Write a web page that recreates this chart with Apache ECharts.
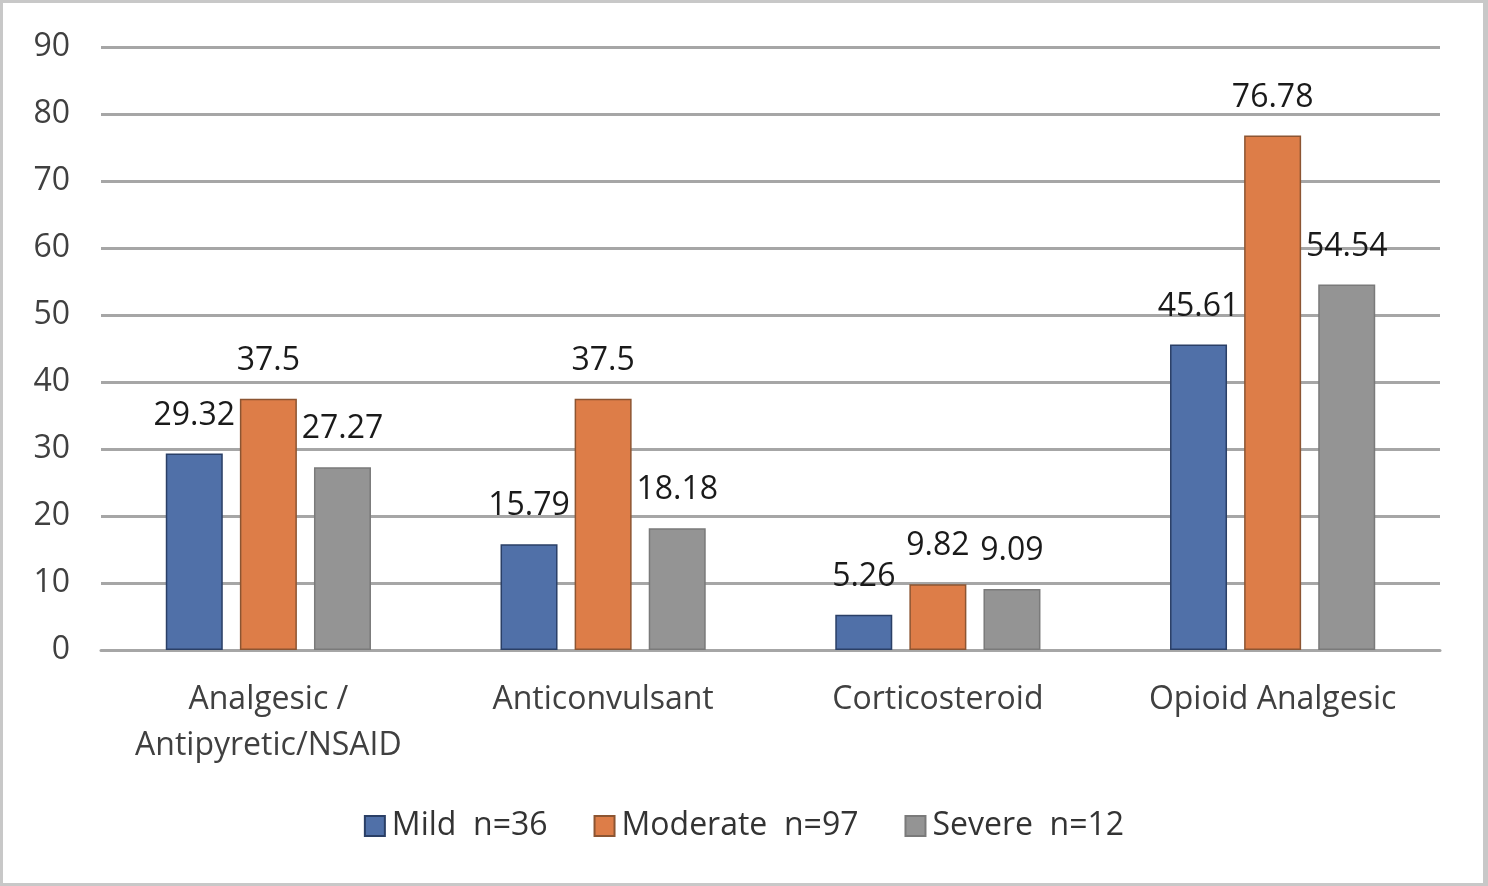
<!DOCTYPE html>
<html>
<head>
<meta charset="utf-8">
<script src="https://cdn.jsdelivr.net/npm/echarts@6/dist/echarts.min.js"></script>
<style>
html,body{margin:0;padding:0;background:#fff;}
#wrap{position:absolute;left:0;top:0;width:1488px;height:886px;box-sizing:border-box;border:3px solid #c8c8c8;border-right-width:5px;}
#chart{position:absolute;left:0;top:0;width:1488px;height:886px;}
</style>
</head>
<body>
<div id="wrap"></div>
<div id="chart"></div>
<script>
const categories = ['Analgesic /\nAntipyretic/NSAID', 'Anticonvulsant', 'Corticosteroid', 'Opioid Analgesic'];
const seriesNames = ['Mild  n=36', 'Moderate  n=97', 'Severe  n=12'];
const mildValues = [29.32, 15.79, 5.26, 45.61];
const moderateValues = [37.5, 37.5, 9.82, 76.78];
const severeValues = [27.27, 18.18, 9.09, 54.54];
const yTicks = { min: 0, max: 90, interval: 10 };

const colors = ['#5070a8', '#dd7d48', '#949494'];
const borders = ['#2a3f66', '#8c5532', '#7a7a7a'];
const font = '"Open Sans", "Noto Sans", sans-serif';

const chart = echarts.init(document.getElementById('chart'));
function mk(name, data, i) {
  return {
    name: name,
    type: 'bar',
    data: data,
    barWidth: 57,
    barGap: '30%',
    itemStyle: { color: colors[i], borderColor: borders[i], borderWidth: 1.5 },
    label: {
      show: true, position: 'top', distance: 22,
      color: '#1a1a1a', fontSize: 32, fontFamily: font
    }
  };
}
chart.setOption({
  animation: false,
  backgroundColor: 'transparent',
  color: colors,
  grid: { left: 101, right: 48, top: 47, bottom: 236, containLabel: false },
  legend: {
    top: 805, left: 'center',
    icon: 'rect', itemWidth: 20, itemHeight: 20, itemGap: 46,
    textStyle: { fontSize: 32, color: '#333', fontFamily: font, padding: [0, 0, 0, 2] },
    data: seriesNames
  },
  xAxis: {
    type: 'category',
    data: categories,
    axisLine: { show: true, lineStyle: { color: '#a6a6a6', width: 3 } },
    axisTick: { show: false },
    axisLabel: { color: '#404040', fontSize: 32, fontFamily: font, margin: 27, lineHeight: 46, interval: 0 }
  },
  yAxis: {
    type: 'value',
    min: yTicks.min, max: yTicks.max, interval: yTicks.interval,
    axisLine: { show: false },
    axisTick: { show: false },
    splitLine: { lineStyle: { color: '#a6a6a6', width: 3 } },
    axisLabel: { color: '#404040', fontSize: 32, fontFamily: font, margin: 31 }
  },
  series: [
    mk(seriesNames[0], mildValues, 0),
    mk(seriesNames[1], moderateValues, 1),
    mk(seriesNames[2], severeValues, 2)
  ]
});
</script>
</body>
</html>
